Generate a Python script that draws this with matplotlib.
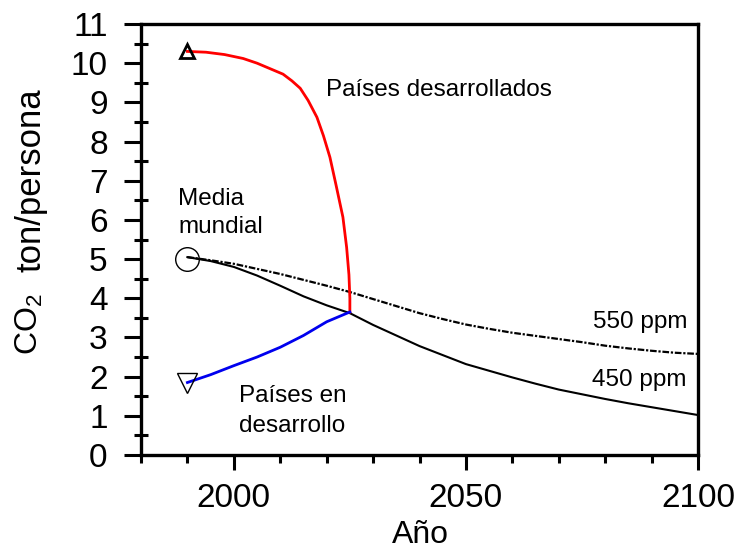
import numpy as np
import matplotlib
matplotlib.use("Agg")
import matplotlib.pyplot as plt
from matplotlib.ticker import MultipleLocator, FixedLocator

plt.rcParams['font.family'] = ['Liberation Sans', 'DejaVu Sans']
plt.rcParams['mathtext.default'] = 'regular'

# developed countries (red), from 1990 down to the meeting point
red_years = [1990, 1994, 1998, 2002, 2005, 2008, 2010.6, 2012.5, 2014.3, 2016, 2017.9,
             2019.3, 2020.7, 2022, 2023.5, 2024.3, 2024.8, 2025.0, 2025.0]
red_vals = [10.3, 10.28, 10.22, 10.12, 10.0, 9.85, 9.72, 9.55, 9.36, 9.05, 8.62,
            8.15, 7.6, 6.9, 6.07, 5.3, 4.6, 4.0, 3.65]

# developing countries (blue)
blue_years = [1990, 1995, 2000, 2005, 2010, 2015, 2020, 2025]
blue_vals = [1.85, 2.05, 2.28, 2.5, 2.75, 3.05, 3.4, 3.65]

# world average paths
path_years = [1990, 1995, 2000, 2005, 2010, 2015, 2020, 2025, 2030, 2035, 2040, 2045,
              2050, 2055, 2060, 2065, 2070, 2075, 2080, 2085, 2090, 2095, 2100]
ppm450 = [5.05, 4.95, 4.8, 4.58, 4.32, 4.05, 3.82, 3.62, 3.32, 3.05, 2.78, 2.55,
          2.32, 2.15, 1.98, 1.82, 1.67, 1.55, 1.43, 1.32, 1.22, 1.12, 1.02]
ppm550 = [5.05, 4.97, 4.88, 4.75, 4.62, 4.47, 4.32, 4.16, 3.98, 3.8, 3.62, 3.47,
          3.33, 3.22, 3.12, 3.04, 2.96, 2.88, 2.79, 2.72, 2.66, 2.61, 2.58]

start_year = 1990
start_developed = 10.3
start_world = 5.0
start_developing = 1.85

fig = plt.figure(figsize=(7.41, 5.49), dpi=100)
ax = fig.add_axes([141/741, 1 - 455/549, 557/741, 431/549])

ax.plot(path_years, ppm550, color='black', lw=1.6, dashes=(3, 0.8, 1, 0.8))
ax.plot(path_years, ppm450, color='black', lw=1.5)
ax.plot(red_years, red_vals, color='#ff0000', lw=2.0)
ax.plot(blue_years, blue_vals, color='#0000ee', lw=2.0)

ax.plot([start_year], [start_developed], marker='^', ms=10, mfc='none', mec='black', mew=2.0)
ax.plot([start_year], [start_world], marker='o', ms=17, mfc='none', mec='black', mew=1.0)
ax.plot([start_year], [start_developing], marker='v', ms=14, mfc='none', mec='black', mew=1.0)

ax.set_xlim(1980, 2100)
ax.set_ylim(0, 11)
ax.xaxis.set_major_locator(FixedLocator([2000, 2050, 2100]))
ax.xaxis.set_minor_locator(MultipleLocator(10))
ax.yaxis.set_major_locator(MultipleLocator(1))
ax.yaxis.set_minor_locator(MultipleLocator(0.5))

for s in ax.spines.values():
    s.set_linewidth(2.4)
ax.tick_params(axis='x', which='major', direction='out', length=11, width=2.2, pad=9, labelsize=24)
ax.tick_params(axis='x', which='minor', direction='out', length=6, width=2.2)
ax.tick_params(axis='y', which='major', direction='out', length=12, width=2.2, pad=12, labelsize=24)
ax.tick_params(axis='y', which='minor', direction='inout', length=10, width=2.2)

fs = 17.5
ax.text(2019.9, 9.16, 'Países desarrollados', fontsize=fs, va='baseline')
ax.text(1988.0, 6.38, 'Media', fontsize=fs, va='baseline')
ax.text(1988.0, 5.66, 'mundial', fontsize=fs, va='baseline')
ax.text(2001.1, 1.35, 'Países en', fontsize=fs, va='baseline')
ax.text(2001.1, 0.59, 'desarrollo', fontsize=fs, va='baseline')
ax.text(2077.3, 3.25, '550 ppm', fontsize=fs, va='baseline')
ax.text(2077.2, 1.77, '450 ppm', fontsize=fs, va='baseline')

fig.text(420/741, 1 - 543/549, 'Año', fontsize=23, ha='center', va='baseline')
fig.text(29/741, 1 - 324/549, r'CO$_2$', fontsize=23, rotation=90, ha='center', va='center')
fig.text(31/741, 1 - 180/549, 'ton/persona', fontsize=25, rotation=90, ha='center', va='center')

fig.savefig('out.png', dpi=100)
